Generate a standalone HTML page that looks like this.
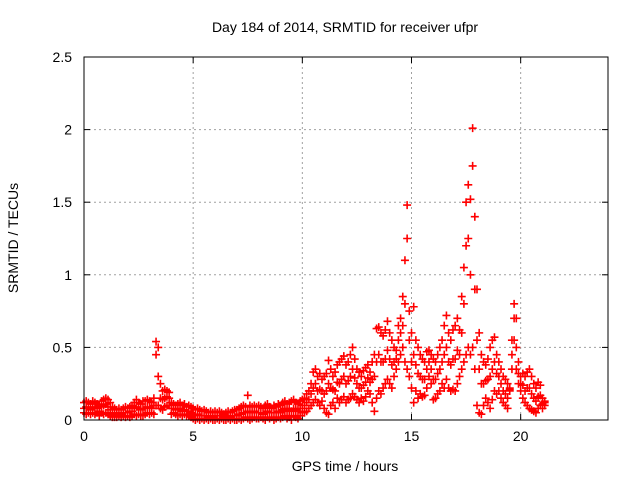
<!DOCTYPE html>
<html><head><meta charset="utf-8"><style>
body{margin:0;background:#fff}
svg{display:block;font-family:"Liberation Sans",sans-serif}
</style></head><body>
<svg id="chart" width="640" height="480" viewBox="0 0 640 480">
<text x="345" y="32" text-anchor="middle" font-size="14">Day 184 of 2014, SRMTID for receiver ufpr</text>
<text x="345" y="471" text-anchor="middle" font-size="14">GPS time / hours</text>
<text transform="translate(18,238) rotate(-90)" text-anchor="middle" font-size="14">SRMTID / TECUs</text>
<g id="grid"></g>
<g id="ticks"></g>
<g id="marks" stroke="#ff0000" stroke-width="1.6"></g>
<rect x="84" y="57" width="524" height="363" fill="none" stroke="#000" stroke-width="1"/>
</svg>
<script>
const xTicks=[0,5,10,15,20];
const yTicks=[0,0.5,1,1.5,2,2.5];
const yTickLabels=["0","0.5","1","1.5","2","2.5"];
const startHour=0, stepHour=0.1;
const tecHigh=[.12,.13,.12,.11,.13,.12,.11,.10,.13,.14,
.15,.14,.12,.09,.08,.07,.08,.07,.08,.09,
.08,.09,.10,.12,.14,.12,.11,.13,.13,.14,
.13,.12,.15,.54,.50,.25,.20,.21,.20,.19,
.12,.11,.10,.11,.12,.10,.11,.09,.10,.09,
.08,.07,.08,.07,.06,.07,.06,.05,.06,.05,
.06,.05,.06,.05,.04,.05,.06,.05,.06,.07,
.07,.08,.09,.10,.09,.17,.10,.09,.10,.09,
.10,.09,.08,.10,.11,.09,.08,.10,.09,.11,
.10,.12,.13,.11,.12,.13,.14,.12,.11,.13,
.14,.15,.18,.20,.25,.33,.35,.30,.32,.28,
.30,.32,.41,.35,.30,.33,.38,.40,.42,.44,
.38,.40,.45,.50,.42,.35,.33,.30,.34,.36,
.38,.33,.40,.45,.63,.64,.60,.58,.62,.68,
.60,.55,.50,.48,.65,.70,.85,1.1,1.48,.75,
.60,.78,.55,.50,.45,.42,.40,.47,.48,.45,
.42,.40,.45,.50,.55,.65,.72,.60,.55,.62,
.65,.70,.62,.85,1.05,1.5,1.62,1.52,2.01,1.40,
.90,.60,.45,.40,.38,.42,.50,.55,.57,.45,
.40,.35,.30,.28,.25,.22,.55,.80,.70,.40,
.30,.32,.30,.33,.35,.30,.25,.22,.26,.24,
.15,.13];
const tecMid=[.08,.09,.08,.07,.09,.08,.08,.06,.09,.10,
.11,.09,.07,.05,.05,.04,.05,.04,.05,.05,
.05,.06,.06,.08,.09,.08,.07,.08,.08,.09,
.09,.08,.10,.45,.30,.15,.14,.15,.16,.15,
.08,.08,.07,.07,.08,.06,.07,.06,.06,.05,
.04,.03,.04,.03,.03,.03,.03,.02,.03,.02,
.03,.03,.03,.03,.02,.02,.03,.02,.03,.03,
.03,.04,.04,.05,.05,.06,.05,.05,.06,.05,
.05,.05,.04,.05,.06,.05,.05,.05,.05,.06,
.05,.07,.08,.06,.07,.06,.08,.07,.06,.08,
.10,.10,.12,.14,.18,.22,.25,.20,.21,.20,
.18,.20,.25,.22,.21,.20,.26,.25,.28,.30,
.25,.27,.30,.35,.29,.25,.22,.22,.24,.26,
.29,.26,.28,.30,.40,.45,.40,.40,.42,.48,
.42,.38,.40,.42,.55,.60,.65,.80,1.25,.55,
.40,.45,.38,.32,.30,.28,.28,.35,.40,.35,
.28,.28,.32,.35,.40,.45,.50,.40,.38,.42,
.42,.48,.45,.60,.80,1.2,1.25,1.0,1.75,.90,
.55,.35,.25,.25,.27,.28,.30,.35,.40,.32,
.30,.25,.20,.18,.15,.21,.45,.70,.50,.32,
.25,.24,.20,.22,.22,.18,.15,.13,.16,.17,
.11,.12];
const tecLow=[.05,.04,.05,.04,.05,.04,.05,.03,.05,.04,
.05,.04,.03,.02,.02,.02,.03,.02,.03,.02,
.03,.02,.03,.04,.03,.04,.03,.03,.04,.05,
.04,.05,.04,.10,.10,.08,.07,.09,.10,.10,
.04,.05,.04,.03,.04,.03,.04,.03,.03,.02,
.01,.00,.01,.00,.01,.00,.01,.00,.01,.00,
.00,.01,.00,.01,.00,.00,.01,.00,.01,.00,
.00,.01,.00,.01,.02,.01,.00,.01,.02,.01,
.01,.02,.01,.00,.02,.01,.02,.00,.01,.02,
.01,.02,.03,.01,.02,.00,.03,.02,.01,.03,
.05,.05,.06,.08,.10,.12,.14,.12,.10,.13,
.08,.05,.04,.10,.12,.08,.15,.12,.14,.16,
.12,.14,.15,.18,.16,.14,.12,.15,.13,.16,
.20,.18,.12,.06,.15,.20,.18,.22,.25,.28,
.25,.22,.30,.35,.40,.45,.50,.40,.35,.30,
.22,.12,.20,.15,.18,.16,.17,.22,.30,.25,
.14,.15,.18,.20,.25,.22,.28,.22,.20,.21,
.20,.25,.30,.35,.40,.45,.50,.45,.50,.35,
.10,.05,.04,.10,.15,.12,.08,.14,.20,.18,
.20,.15,.12,.10,.08,.20,.35,.55,.35,.25,
.20,.15,.12,.10,.08,.07,.06,.05,.08,.10,
.08,.10];
const X0=84,X1=608,Y0=420,Y1=57,XMAX=24,YMAX=2.5;
function xs(v){return X0+(X1-X0)*v/XMAX;}
function ys(v){return Y0-(Y0-Y1)*v/YMAX;}
const NS="http://www.w3.org/2000/svg";
const grid=document.getElementById('grid'),ticks=document.getElementById('ticks'),marks=document.getElementById('marks');
function mk(tag,attrs,parent){const e=document.createElementNS(NS,tag);for(const k in attrs)e.setAttribute(k,attrs[k]);parent.appendChild(e);return e;}
xTicks.forEach(t=>{
  const x=xs(t);
  if(t>0){const g=mk('line',{x1:x,x2:x,y1:Y1,y2:Y0,stroke:'#a0a0a0','stroke-dasharray':'2,3'},grid);
  
  }
  mk('line',{x1:x,x2:x,y1:Y0,y2:Y0-6,stroke:'#000'},ticks);
  mk('line',{x1:x,x2:x,y1:Y1,y2:Y1+6,stroke:'#000'},ticks);
  const l=mk('text',{x:x,y:Y0+21,'text-anchor':'middle','font-size':'14'},ticks);
  l.textContent=String(t);
  
  
});
yTicks.forEach((t,i)=>{
  const y=ys(t);
  if(t>0&&t<YMAX){const g=mk('line',{x1:X0,x2:X1,y1:y,y2:y,stroke:'#a0a0a0','stroke-dasharray':'2,3'},grid);
  
  }
  mk('line',{x1:X0,x2:X0+6,y1:y,y2:y,stroke:'#000'},ticks);
  mk('line',{x1:X1,x2:X1-6,y1:y,y2:y,stroke:'#000'},ticks);
  const l=mk('text',{x:X0-12,y:y+5,'text-anchor':'end','font-size':'14'},ticks);
  l.textContent=yTickLabels[i];
  
  
});
let d='';
[tecLow,tecMid,tecHigh].forEach(arr=>{
  arr.forEach((v,i)=>{
    const x=xs(startHour+i*stepHour),y=ys(v);
    d+=`M${x-4},${y}h8M${x},${y-4}v8`;
  });
});
const p=mk('path',{d:d,fill:'none'},marks);


</script>
</body></html>
